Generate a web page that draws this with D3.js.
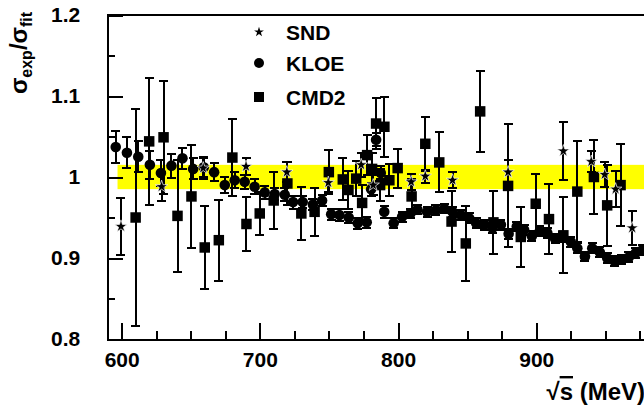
<!DOCTYPE html>
<html>
<head>
<meta charset="utf-8">
<script src="https://cdn.jsdelivr.net/npm/d3@7"></script>
<style>
  body { margin: 0; background: #fff; }
  text { font-family: "Liberation Sans", Arial, Helvetica, sans-serif; font-weight: bold; }
  .err line, .tick line, .domain { shape-rendering: crispEdges; }
</style>
</head>
<body>
<div id="chart"></div>
<script>
// ===== DATA =====
// SND
const sndEnergy = [599.5, 628.9, 659.0, 690.0, 719.5, 749.5, 773.3, 782.0, 809.5, 819.7, 839.4, 879.6, 919.6, 939.8, 949.5, 957.4, 969.4];
const sndRatio  = [0.939, 0.988, 1.011, 1.013, 1.006, 0.993, 1.015, 0.990, 0.994, 1.001, 0.996, 1.006, 1.032, 1.019, 1.003, 0.985, 0.937];
const sndError  = [0.035, 0.018, 0.014, 0.011, 0.012, 0.012, 0.015, 0.012, 0.010, 0.008, 0.010, 0.015, 0.036, 0.013, 0.015, 0.022, 0.021];

// KLOE
const kloeEnergy = [595.7, 603.8, 612.0, 620.4, 628.4, 636.0, 644.0, 651.7, 659.4, 666.9, 674.6, 681.8, 689.0, 696.2,
  703.5, 710.7, 718.0, 724.0, 731.0, 738.4, 745.0, 751.6, 757.6, 764.3, 770.8, 777.3, 780.5, 784.1, 787.5, 790.0,
  796.8, 802.9, 808.9, 814.0, 821.0, 827.4, 833.4, 839.4, 845.5, 851.5, 856.5, 862.3, 868.3, 874.4, 880.0, 885.9,
  891.2, 896.8, 902.5, 908.0, 913.6, 919.3, 925.0, 929.7, 935.2, 940.5, 946.0, 951.3, 956.7, 961.7, 967.0, 971.8, 977.0];
const kloeRatio = [1.037, 1.030, 1.025, 1.015, 1.005, 1.014, 1.023, 1.010, 1.012, 1.006, 0.990, 0.996, 0.994, 0.988,
  0.981, 0.979, 0.978, 0.969, 0.969, 0.966, 0.971, 0.954, 0.953, 0.950, 0.943, 0.944, 0.985, 1.046, 1.005, 0.957,
  0.943, 0.951, 0.955, 0.960, 0.957, 0.959, 0.961, 0.957, 0.953, 0.949, 0.943, 0.941, 0.937, 0.941, 0.930, 0.939,
  0.935, 0.927, 0.933, 0.931, 0.924, 0.926, 0.920, 0.912, 0.902, 0.912, 0.907, 0.900, 0.896, 0.898, 0.901, 0.906, 0.910];
const kloeError = [0.020, 0.019, 0.019, 0.017, 0.016, 0.015, 0.013, 0.013, 0.012, 0.011, 0.010, 0.010, 0.009, 0.009,
  0.008, 0.008, 0.008, 0.008, 0.007, 0.007, 0.007, 0.007, 0.007, 0.007, 0.007, 0.007, 0.008, 0.008, 0.008, 0.007,
  0.006, 0.006, 0.006, 0.006, 0.006, 0.006, 0.006, 0.006, 0.006, 0.006, 0.006, 0.006, 0.006, 0.006, 0.006, 0.006,
  0.006, 0.006, 0.006, 0.006, 0.006, 0.006, 0.006, 0.006, 0.006, 0.006, 0.006, 0.006, 0.006, 0.006, 0.006, 0.006, 0.006];

// CMD2
const cmdEnergy = [610.1, 619.9, 630.3, 640.4, 650.5, 660.1, 670.3, 680.1, 690.3, 699.9, 710.0, 719.9, 730.0, 739.6,
  749.9, 760.0, 764.1, 769.7, 774.0, 777.6, 781.2, 784.1, 787.0, 790.1, 793.7, 799.7, 809.8, 819.7, 829.8, 838.7,
  849.0, 859.4, 869.0, 879.6, 888.8, 899.6, 909.2, 919.6, 929.7, 941.7, 951.3, 961.0];
const cmdRatio = [0.950, 1.044, 1.049, 0.952, 0.976, 0.913, 0.922, 1.024, 0.942, 0.955, 0.971, 0.992, 0.955, 0.957,
  1.006, 0.997, 0.984, 0.998, 0.968, 1.027, 1.010, 1.066, 0.990, 1.062, 0.996, 1.011, 0.976, 1.041, 1.018, 0.945,
  0.918, 1.081, 0.944, 0.989, 0.926, 0.967, 0.948, 0.928, 0.982, 1.000, 0.965, 0.990];
const cmdError = [0.134, 0.078, 0.070, 0.069, 0.064, 0.051, 0.050, 0.047, 0.033, 0.027, 0.035, 0.026, 0.033, 0.030,
  0.027, 0.026, 0.024, 0.022, 0.022, 0.025, 0.020, 0.031, 0.020, 0.037, 0.020, 0.024, 0.022, 0.033, 0.037, 0.038,
  0.046, 0.050, 0.039, 0.076, 0.037, 0.037, 0.043, 0.047, 0.062, 0.046, 0.050, 0.051];

// yellow band (fit uncertainty)
const bandEnergy = [597, 1000];
const bandRatio = [0.985, 1.015];

// ticks / labels
const xMajorTicks = [600, 700, 800, 900];
const xMinorTicks = d3.range(600, 1001, 25).filter(v => v % 100 !== 0);
const yMajorTicks = [0.8, 0.9, 1.0, 1.1, 1.2];
const yMinorTicks = [0.85, 0.95, 1.05, 1.15];
const seriesNames = ['SND', 'KLOE', 'CMD2'];

// ===== CHART =====
const WIDTH = 644, HEIGHT = 406;
const svg = d3.select('#chart').append('svg')
  .attr('width', WIDTH).attr('height', HEIGHT);

const x = d3.scaleLinear().domain([589.6, 1000]).range([107.3, 107.3 + 410.4 * 1.382]);
const y = d3.scaleLinear().domain([0.8, 1.2]).range([339, 15]);

const zip = (e, v, err) => e.map((d, i) => ({ e: d, v: v[i], err: err[i] }));
const snd = zip(sndEnergy, sndRatio, sndError);
const kloe = zip(kloeEnergy, kloeRatio, kloeError);
const cmd = zip(cmdEnergy, cmdRatio, cmdError);

// BAND
svg.append('rect')
  .attr('x', x(bandEnergy[0]))
  .attr('y', y(bandRatio[1]))
  .attr('width', x(bandEnergy[1]) - x(bandEnergy[0]))
  .attr('height', y(bandRatio[0]) - y(bandRatio[1]))
  .attr('fill', '#ffff00');

// ERROR BARS + MARKERS
const CAP = 4.5;
function drawSeries(data, symbol, size, cls, outline) {
  const g = svg.append('g').attr('class', cls);
  const bars = g.selectAll('.err').data(data).enter().append('g').attr('class', 'err')
    .attr('stroke', '#000').attr('stroke-width', 2);
  bars.append('line')
    .attr('x1', d => x(d.e)).attr('x2', d => x(d.e))
    .attr('y1', d => y(d.v + d.err)).attr('y2', d => y(d.v - d.err));
  bars.append('line')
    .attr('x1', d => x(d.e) - CAP).attr('x2', d => x(d.e) + CAP)
    .attr('y1', d => y(d.v + d.err)).attr('y2', d => y(d.v + d.err));
  bars.append('line')
    .attr('x1', d => x(d.e) - CAP).attr('x2', d => x(d.e) + CAP)
    .attr('y1', d => y(d.v - d.err)).attr('y2', d => y(d.v - d.err));

  g.selectAll('.pt').data(data).enter().append('path')
    .attr('class', 'pt')
    .attr('d', d3.symbol().type(symbol).size(size))
    .attr('transform', d => `translate(${x(d.e)},${y(d.v)})`)
    .attr('fill', '#000')
    .attr('stroke', outline ? '#fff' : 'none')
    .attr('stroke-width', outline ? 0.7 : 0);
}

drawSeries(kloe, d3.symbolCircle, Math.PI * 5.3 * 5.3, 'kloe', false);
drawSeries(cmd, d3.symbolSquare, 10.5 * 10.5, 'cmd2', false);
drawSeries(snd, d3.symbolStar, 48, 'snd', true);

// AXES
const axisStyle = g => {
  g.select('.domain').attr('stroke-width', 2);
  g.selectAll('.tick line').attr('stroke-width', 2);
  g.selectAll('text').attr('font-size', 21).attr('fill', '#000')
    .attr('font-family', '"Liberation Sans", Arial, sans-serif').attr('font-weight', 'bold');
};

// y axis, ticks inward
svg.append('g')
  .attr('transform', `translate(${x.range()[0]},0)`)
  .call(d3.axisLeft(y).tickValues(yMajorTicks).tickSizeInner(-16).tickSizeOuter(0).tickPadding(27)
    .tickFormat(d => d === 1 ? '1' : d3.format('.1f')(d)))
  .call(axisStyle);
svg.append('g')
  .attr('transform', `translate(${x.range()[0]},0)`)
  .call(d3.axisLeft(y).tickValues(yMinorTicks).tickSizeInner(-8).tickSizeOuter(0).tickFormat(''))
  .call(axisStyle);

// x axis, ticks inward
svg.append('g')
  .attr('transform', `translate(0,${y.range()[0]})`)
  .call(d3.axisBottom(x).tickValues(xMajorTicks).tickSizeInner(-16).tickSizeOuter(0).tickPadding(13)
    .tickFormat(d3.format('d')))
  .call(axisStyle);
svg.append('g')
  .attr('transform', `translate(0,${y.range()[0]})`)
  .call(d3.axisBottom(x).tickValues(xMinorTicks).tickSizeInner(-8).tickSizeOuter(0).tickFormat(''))
  .call(axisStyle);

// top frame
svg.append('line')
  .attr('x1', x.range()[0]).attr('x2', x.range()[1])
  .attr('y1', y(1.2)).attr('y2', y(1.2))
  .attr('stroke', '#000').attr('stroke-width', 2)
  .attr('shape-rendering', 'crispEdges');

// AXIS TITLES
const yTitle = svg.append('text')
  .attr('transform', 'translate(27,53) rotate(-90)')
  .attr('text-anchor', 'middle')
  .attr('font-size', 24);
yTitle.append('tspan').text('σ');
yTitle.append('tspan').attr('font-size', 16).attr('dy', 5).text('exp');
yTitle.append('tspan').attr('dy', -5).text('/');
yTitle.append('tspan').text('σ');
yTitle.append('tspan').attr('font-size', 16).attr('dy', 5).text('fit');

const xTitle = svg.append('text')
  .attr('x', 645).attr('y', 400)
  .attr('text-anchor', 'end')
  .attr('font-size', 24);
xTitle.append('tspan').text('√');
xTitle.append('tspan').style('text-decoration', 'overline').text('s');
xTitle.append('tspan').text(' (MeV)');

// LEGEND
const legendSymbols = [d3.symbolStar, d3.symbolCircle, d3.symbolSquare];
const legendSizes = [30, Math.PI * 5 * 5, 100];
const legend = svg.append('g').attr('class', 'legend');
const items = legend.selectAll('g').data(seriesNames).enter().append('g')
  .attr('transform', (d, i) => `translate(259,${[32, 63, 97][i]})`);
items.append('path')
  .attr('d', (d, i) => d3.symbol().type(legendSymbols[i]).size(legendSizes[i])())
  .attr('fill', '#000');
items.append('text')
  .attr('x', 27).attr('y', 8)
  .attr('font-size', 21)
  .text(d => d);
</script>
</body>
</html>
